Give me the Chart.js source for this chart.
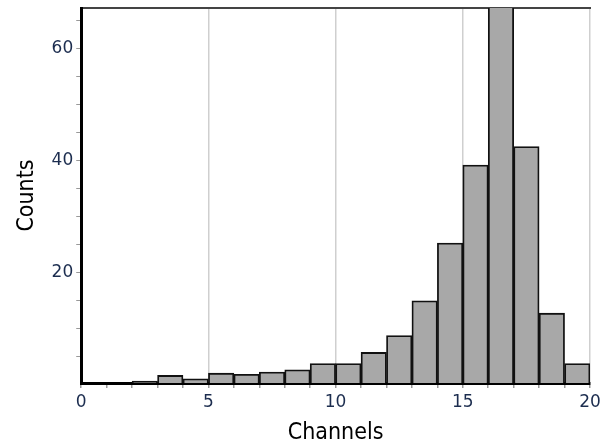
<!DOCTYPE html>
<html>
<head>
<meta charset="utf-8">
<script src="https://cdn.jsdelivr.net/npm/chart.js@4"></script>
<style>
  html, body { margin: 0; padding: 0; background: #fff; }
  #wrap { width: 606px; height: 447px; }
</style>
</head>
<body>
<div id="wrap"><canvas id="hist"></canvas></div>
<script>
// histogram bins: channel i .. i+1
const binStarts = [0,1,2,3,4,5,6,7,8,9,10,11,12,13,14,15,16,17,18,19];
const counts = [0,0,0.7,1.7,1.1,2.1,1.9,2.3,2.7,3.8,3.8,5.8,8.8,15,25.3,39.2,70,42.5,12.8,3.8];
const xLabelTicks = [0,5,10,15,20];
const yLabelTicks = [20,40,60];
const yMinorTicks = [5,10,15,20,25,30,35,40,45,50,55,60,65];

const tickFont = { family: 'DejaVu Sans, sans-serif', size: 17 };
const titleFont = { family: 'DejaVu Sans Condensed, DejaVu Sans, sans-serif', size: 23 };
const tickColor = '#1c2d4f';

new Chart(document.getElementById('hist'), {
  type: 'bar',
  data: {
    datasets: [{
      data: binStarts.map((b, i) => ({ x: b + 0.5, y: counts[i] })),
      backgroundColor: '#a8a8a8',
      borderColor: '#111',
      borderWidth: 1.8,
      barPercentage: 1,
      categoryPercentage: 1,
      clip: 0
    }]
  },
  options: {
    responsive: true,
    maintainAspectRatio: false,
    animation: false,
    layout: { padding: { left: 13, right: 16, top: 8, bottom: 0 } },
    plugins: { legend: { display: false }, tooltip: { enabled: false } },
    scales: {
      x: {
        type: 'linear',
        min: 0, max: 20,
        offset: false,
        ticks: {
          stepSize: 1, autoSkip: false, maxRotation: 0,
          font: tickFont, color: tickColor, padding: 4,
          callback: v => xLabelTicks.includes(v) ? v : ''
        },
        grid: {
          offset: false,
          color: c => (c.tick && c.tick.value % 5 === 0 && c.tick.value !== 0) ? '#cfcfcf' : 'rgba(0,0,0,0)',
          lineWidth: 1.5,
          tickColor: '#999',
          tickLength: 5
        },
        border: { color: '#000', width: 3 },
        title: { display: true, text: 'Channels', font: titleFont, color: '#000', padding: { top: 3, bottom: 0 } }
      },
      xTop: {
        type: 'linear',
        position: 'top',
        min: 0, max: 20,
        ticks: { display: false },
        grid: { display: false },
        border: { color: '#444', width: 2 },
        afterFit: s => { s.height = 0; }
      },
      y: {
        min: 0.35, max: 67.2,
        afterBuildTicks: axis => { axis.ticks = yMinorTicks.map(v => ({ value: v })); },
        afterFit: s => { s.paddingTop = 0; },
        ticks: {
          autoSkip: false, font: tickFont, color: tickColor, padding: 3,
          callback: v => yLabelTicks.includes(v) ? v : ''
        },
        grid: { drawOnChartArea: false, tickColor: '#999', tickLength: 5 },
        border: { color: '#000', width: 3 },
        title: { display: true, text: 'Counts', font: titleFont, color: '#000', padding: { top: 0, bottom: 8 } }
      }
    }
  }
});
</script>
</body>
</html>
